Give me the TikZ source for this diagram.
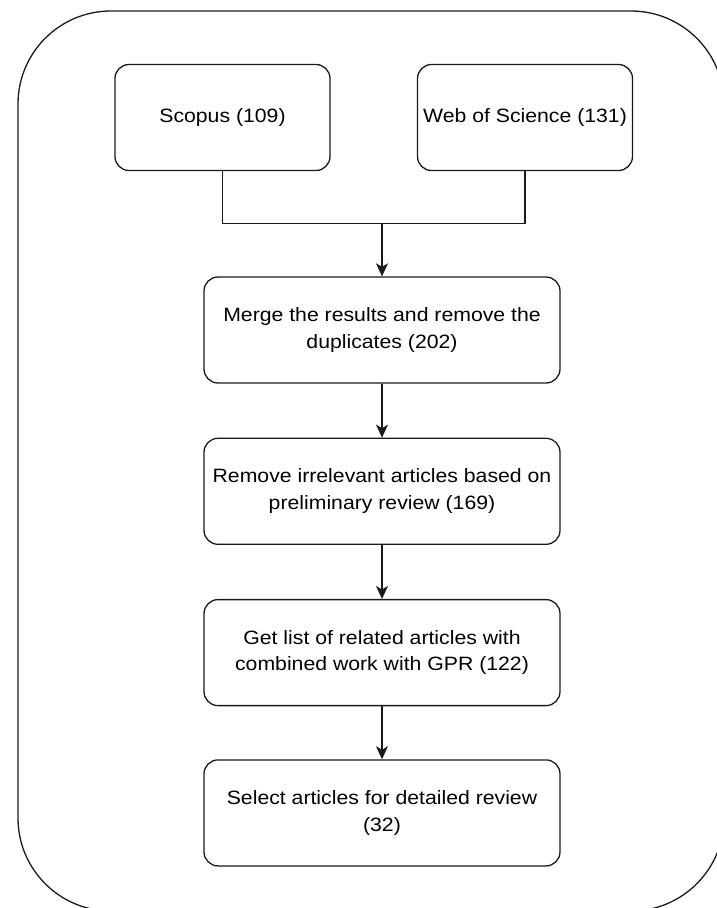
\documentclass[tikz,border=0pt]{standalone}
\usepackage{fontspec}
\setmainfont[FakeStretch=1.1]{Liberation Sans}
\usetikzlibrary{positioning,arrows.meta}

\tikzset{
  stepbox/.style={draw=borderColour, line width=1.3pt, rounded corners=14pt, align=center,
    inner sep=2pt, minimum width=356pt, minimum height=106pt,
    font=\fontsize{19.3}{26.7}\selectfont},
  sourcebox/.style={stepbox, minimum width=215pt},
  flowarrow/.style={draw=borderColour, line width=1.3pt, -{Stealth[length=13pt,width=12pt,inset=3.5pt]}}
}

\begin{document}
\begin{tikzpicture}[x=1pt, y=-1pt]
    \definecolor{borderColour}{HTML}{1A1A1A}

    \useasboundingbox (0,0) rectangle (717,908);
    \clip (0,0) rectangle (717,908);

    % Outer frame
    \draw[draw=borderColour, line width=1.3pt, rounded corners=93pt] (18,11) rectangle (724,911);

    % Source databases
    \node[sourcebox] (scopus) at (222.5,117.5) {Scopus (109)};
    \node[sourcebox] (wos) at (525,117.5) {Web of Science (131)};

    % Screening steps
    \node[stepbox] (merge) at (382,330) {Merge the results and remove the\\duplicates (202)};
    \node[stepbox, below=54pt of merge] (remove) {Remove irrelevant articles based on\\preliminary review (169)};
    \node[stepbox, below=54pt of remove] (related) {Get list of related articles with\\combined work with GPR (122)};
    \node[stepbox, below=53pt of related] (select) {Select articles for detailed review\\(32)};

    % Connectors
    \path (merge.north) ++(0,-53) coordinate (join);
    \draw[draw=borderColour, line width=1.3pt] (scopus.south) |- (join) -| (wos.south);
    \draw[flowarrow] (join) -- (merge.north);
    \draw[flowarrow] (merge) -- (remove);
    \draw[flowarrow] (remove) -- (related);
    \draw[flowarrow] (related) -- (select);

\end{tikzpicture}
\end{document}
